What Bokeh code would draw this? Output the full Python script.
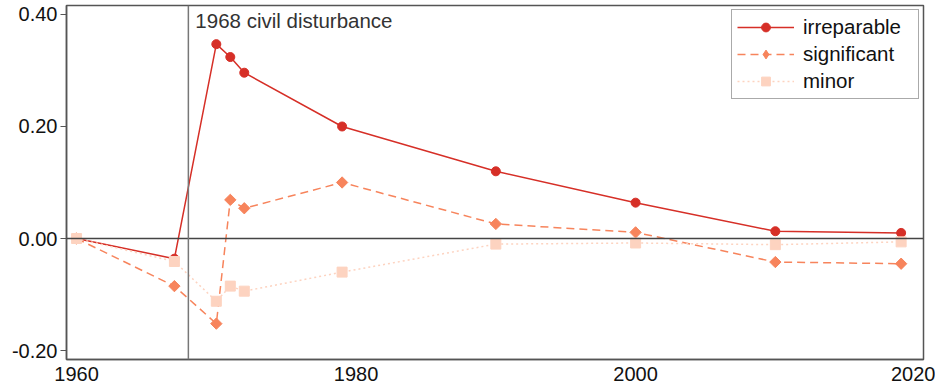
from bokeh.plotting import figure
from bokeh.models import Range1d, Span, Label, FixedTicker, Legend, LegendItem
from bokeh.embed import file_html
from bokeh.resources import INLINE

years = [1960, 1967, 1970, 1971, 1972, 1979, 1990, 2000, 2010, 2019]
irreparable = [0.0, -0.036, 0.347, 0.324, 0.296, 0.200, 0.120, 0.064, 0.013, 0.010]
significant = [0.0, -0.085, -0.152, 0.069, 0.054, 0.100, 0.026, 0.011, -0.042, -0.045]
minor = [0.0, -0.041, -0.112, -0.085, -0.094, -0.060, -0.010, -0.008, -0.011, -0.006]
x_ticks = [1960, 1980, 2000, 2020]
y_ticks = [-0.2, 0.0, 0.2, 0.4]
event_year = 1968
event_label = "1968 civil disturbance"

FONT = "Liberation Sans"

p = figure(width=935, height=384, output_backend="svg", toolbar_location=None,
           x_range=Range1d(1959.28, 2020.6), y_range=Range1d(-0.216, 0.416),
           min_border_left=66, min_border_right=12, min_border_top=5, min_border_bottom=25)
p.grid.visible = False
p.outline_line_color = "#555555"
p.outline_line_width = 1.5

p.xaxis.ticker = FixedTicker(ticks=x_ticks)
p.yaxis.ticker = FixedTicker(ticks=y_ticks)
p.yaxis.major_label_overrides = {-0.2: "-0.20", 0.0: "0.00", 0.2: "0.20", 0.4: "0.40"}
for ax in (p.xaxis[0], p.yaxis[0]):
    ax.major_label_text_font = FONT
    ax.major_label_text_font_size = "20px"
    ax.major_label_text_color = "#111111"
    ax.axis_line_color = "#555555"
    ax.axis_line_width = 1.5
    ax.minor_tick_line_color = None
p.xaxis.major_tick_line_color = None
p.xaxis.major_label_standoff = 1
p.yaxis.major_tick_line_color = "#555555"
p.yaxis.major_tick_out = 6
p.yaxis.major_tick_in = 0
p.yaxis.major_label_standoff = 3

p.add_layout(Span(location=0, dimension="width", line_color="#444444", line_width=1.5))
p.add_layout(Span(location=event_year, dimension="height", line_color="#777777", line_width=1.5))
p.add_layout(Label(x=event_year, y=0.416, text=event_label, x_offset=7, y_offset=-3,
                   text_baseline="top", text_font=FONT, text_font_size="20.5px",
                   text_color="#333333"))

c1, c2, c3 = "#d62f27", "#f7845c", "#fdd3c0"
l1 = p.line(years, irreparable, line_color=c1, line_width=1.5)
s1 = p.scatter(years, irreparable, marker="circle", size=9, fill_color=c1, line_color=c1)
l2 = p.line(years, significant, line_color=c2, line_width=1.5, line_dash="8 5")
s2 = p.scatter(years, significant, marker="square", angle=0.785398, size=8, fill_color=c2, line_color=c2)
d2 = p.scatter(years, significant, marker="diamond", size=0, fill_color=c2, line_color=c2)
l3 = p.line(years, minor, line_color=c3, line_width=1.5, line_dash="2 3")
s3 = p.scatter(years, minor, marker="square", size=10, fill_color=c3, line_color=c3)

legend = Legend(items=[LegendItem(label="irreparable", renderers=[l1, s1]),
                       LegendItem(label="significant", renderers=[l2, d2]),
                       LegendItem(label="minor", renderers=[l3, s3])],
                location="top_right")
legend.label_text_font = FONT
legend.label_text_font_size = "20.5px"
legend.label_text_color = "#111111"
legend.border_line_color = "#555555"
legend.border_line_width = 1
legend.glyph_width = 57
legend.glyph_height = 22
legend.label_standoff = 9
legend.label_width = 110
legend.spacing = 3
legend.padding = 5
legend.margin = 4
p.add_layout(legend)

open("out.html", "w").write(file_html(p, INLINE))
